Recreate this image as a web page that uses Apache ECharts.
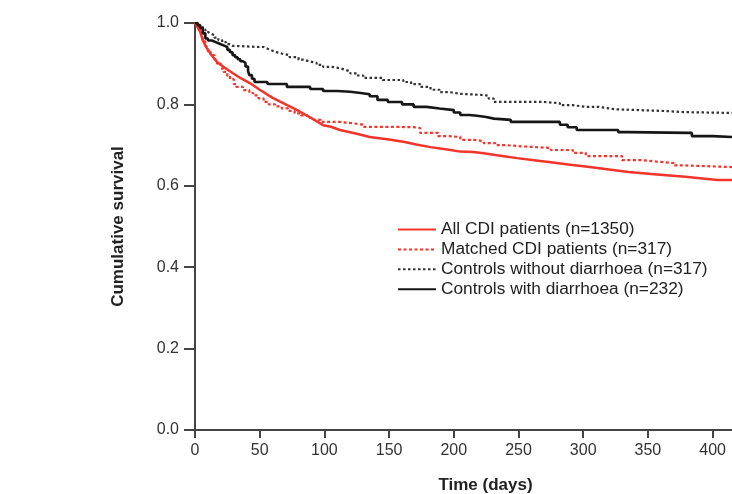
<!DOCTYPE html>
<html><head><meta charset="utf-8">
<script src="https://cdn.jsdelivr.net/npm/echarts@6/dist/echarts.min.js"></script>
<style>html,body{margin:0;padding:0;background:#fff}#c{width:732px;height:494px}</style>
</head><body><div id="c"></div>
<script>
// Series names
var seriesNames = ['All CDI patients (n=1350)','Matched CDI patients (n=317)','Controls without diarrhoea (n=317)','Controls with diarrhoea (n=232)'];
// [day, survival]
var allCDI = [[0,1],[2,0.99],[4,0.978],[6,0.958],[9,0.939],[13,0.92],[17,0.904],[23,0.89],[29,0.877],[35,0.865],[42,0.853],[50,0.836],[60,0.816],[70,0.80],[79,0.786],[90,0.766],[99,0.749],[105,0.745],[112,0.737],[125,0.728],[135,0.720],[150,0.714],[161,0.708],[172,0.701],[182,0.695],[195,0.689],[205,0.684],[215,0.683],[223,0.680],[236,0.674],[249,0.668],[262,0.663],[275,0.658],[290,0.652],[305,0.646],[320,0.640],[335,0.634],[357,0.628],[379,0.622],[392,0.618],[404,0.614],[415,0.614]];
var matchedCDI = [[0,1],[2,0.99],[4,0.975],[6,0.955],[8,0.942],[10,0.93],[12,0.921],[15,0.91],[17,0.90],[20,0.888],[22,0.880],[25,0.87],[27,0.862],[30,0.85],[32,0.843],[37,0.835],[42,0.828],[45,0.822],[49,0.815],[53,0.806],[57,0.80],[62,0.795],[67,0.79],[72,0.784],[77,0.778],[82,0.773],[87,0.767],[92,0.762],[97,0.757],[104,0.757],[112,0.754],[121,0.75],[130,0.745],[150,0.744],[169,0.742],[174,0.730],[188,0.722],[196,0.72],[205,0.713],[215,0.71],[223,0.705],[232,0.70],[240,0.697],[252,0.693],[275,0.688],[292,0.681],[302,0.673],[319,0.673],[330,0.663],[345,0.659],[358,0.656],[370,0.65],[379,0.646],[415,0.646]];
var ctrlNoDiar = [[0,1],[2,0.994],[4,0.99],[6,0.984],[8,0.978],[10,0.974],[12,0.970],[15,0.964],[18,0.958],[21,0.953],[24,0.948],[27,0.944],[29,0.941],[50,0.941],[53,0.937],[56,0.933],[59,0.929],[62,0.925],[67,0.921],[73,0.916],[80,0.91],[84,0.906],[88,0.902],[94,0.897],[99,0.892],[106,0.889],[112,0.885],[116,0.881],[120,0.876],[125,0.871],[130,0.865],[145,0.86],[161,0.855],[167,0.85],[174,0.843],[182,0.836],[189,0.830],[197,0.826],[205,0.823],[223,0.821],[227,0.814],[231,0.806],[269,0.803],[282,0.798],[292,0.794],[302,0.794],[312,0.791],[318,0.788],[325,0.784],[361,0.781],[379,0.779],[415,0.779]];
var ctrlDiar = [[0,1],[2,0.995],[4,0.988],[6,0.975],[8,0.962],[10,0.957],[13,0.953],[16,0.949],[19,0.945],[22,0.941],[25,0.934],[27,0.928],[29,0.921],[31,0.916],[33,0.911],[35,0.906],[37,0.902],[39,0.893],[41,0.882],[42,0.872],[44,0.863],[46,0.855],[56,0.850],[71,0.843],[89,0.838],[99,0.833],[110,0.831],[120,0.828],[128,0.825],[135,0.82],[141,0.811],[149,0.806],[160,0.80],[169,0.794],[179,0.79],[189,0.786],[200,0.78],[205,0.774],[212,0.772],[218,0.769],[225,0.765],[231,0.762],[244,0.757],[275,0.757],[282,0.75],[288,0.744],[295,0.737],[327,0.732],[335,0.730],[381,0.730],[384,0.722],[400,0.720],[415,0.720]];
var xTicks = [0,50,100,150,200,250,300,350,400];
var yTicks = [0.0,0.2,0.4,0.6,0.8,1.0];

var RED = '#f2342a', BLK = '#161616';
var chart = echarts.init(document.getElementById('c'), null, {renderer:'canvas'});
var font = '"Liberation Sans", Arial, sans-serif';
function mk(name, data, color, type, w, step) {
  return {name:name, type:'line', data:data, step:step, showSymbol:false, symbol:'none',
    lineStyle:{color:color, width:w, type:type}, itemStyle:{color:color}, animation:false, z: 3};
}
chart.setOption({
  animation:false,
  grid:{left:195, top:23, right:0, bottom:64, containLabel:false, outerBoundsMode:'none'},
  legend:{orient:'vertical', left:392, top:216, itemWidth:38, itemHeight:12, itemGap:2.9,
    itemStyle:{opacity:0},
    textStyle:{fontFamily:font, fontSize:17.3, color:'#222'},
    data:seriesNames.map(function(n){return {name:n};})},
  xAxis:{type:'value', min:0, max:415, interval:50,
    name:'Time (days)', nameLocation:'middle', nameGap:47,
    nameTextStyle:{fontFamily:font, fontSize:17, fontWeight:'bold', color:'#222', padding:[0,0,0,44]},
    axisLine:{show:true, onZero:false, lineStyle:{color:'#444', width:2}},
    axisTick:{show:true, length:8, lineStyle:{color:'#444', width:2}},
    axisLabel:{fontFamily:font, fontSize:16, color:'#333', margin:13, showMaxLabel:false,
      formatter:function(v){return xTicks.indexOf(v)>=0? String(v):'';}},
    splitLine:{show:false}},
  yAxis:{type:'value', min:0, max:1, interval:0.2,
    name:'Cumulative survival', nameLocation:'middle', nameGap:68, nameRotate:90,
    nameTextStyle:{fontFamily:font, fontSize:17, fontWeight:'bold', color:'#222'},
    axisLine:{show:true, lineStyle:{color:'#444', width:2}},
    axisTick:{show:true, length:11, lineStyle:{color:'#444', width:2}},
    axisLabel:{fontFamily:font, fontSize:16, color:'#333', margin:16,
      formatter:function(v){var t=yTicks.filter(function(a){return Math.abs(a-v)<1e-6;}); return t.length? t[0].toFixed(1):'';}},
    splitLine:{show:false}},
  series:[
    mk(seriesNames[0], allCDI, RED, 'solid', 2.5, false),
    mk(seriesNames[1], matchedCDI, RED, [3,2.5], 2.2, 'end'),
    mk(seriesNames[2], ctrlNoDiar, '#333', [2.5,2.5], 2.2, 'end'),
    mk(seriesNames[3], ctrlDiar, BLK, 'solid', 2.6, 'end')
  ]
});
</script></body></html>
